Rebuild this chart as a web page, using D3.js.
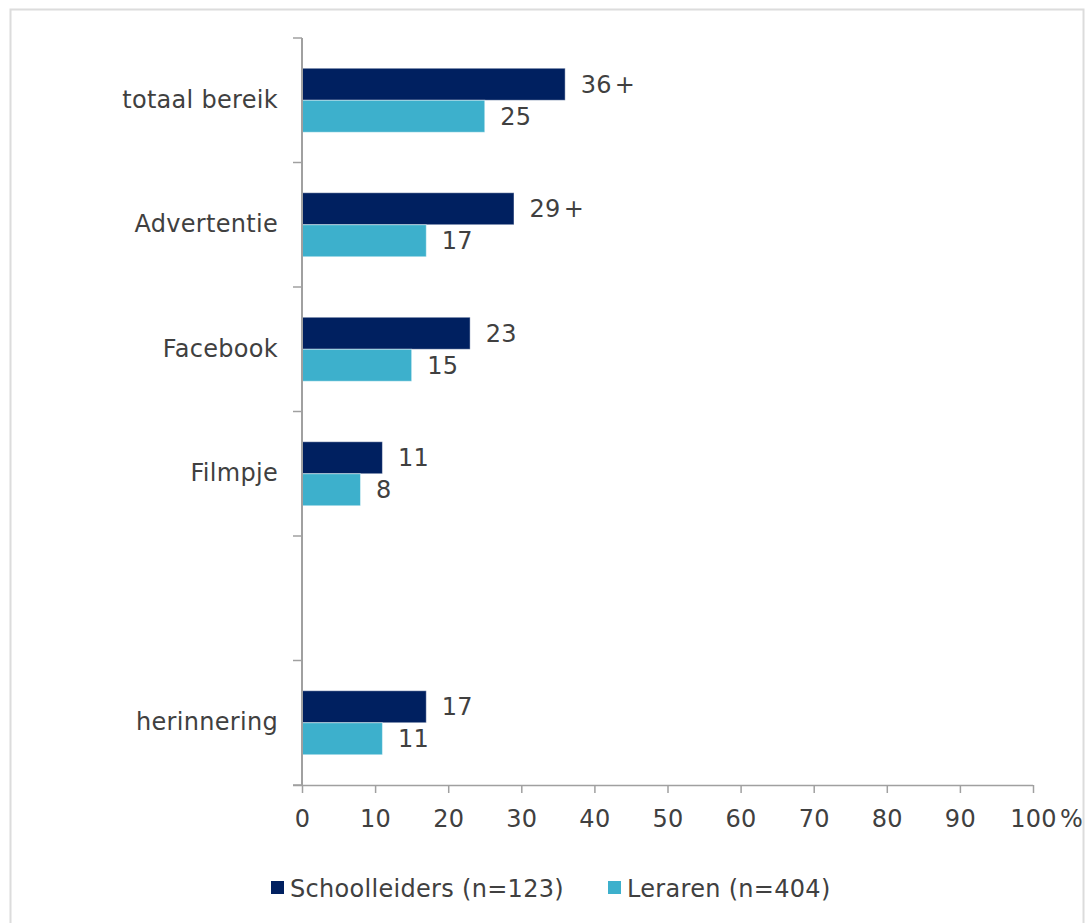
<!DOCTYPE html>
<html>
<head>
<meta charset="utf-8">
<script src="https://cdn.jsdelivr.net/npm/d3@7"></script>
<style>
  html, body { margin: 0; padding: 0; background: #ffffff; }
  svg { display: block; }
  text { font-family: "DejaVu Sans", Verdana, sans-serif; fill: #404040; letter-spacing: 0.3px; }
</style>
</head>
<body>
<script>
// Bereik per kanaal (%), schoolleiders vs. leraren
const categories = ["totaal bereik", "Advertentie", "Facebook", "Filmpje", "", "herinnering"];
const schoolleiders = [36, 29, 23, 11, null, 17];
const leraren = [25, 17, 15, 8, null, 11];
const schoolleidersMarks = ["+", "+", "", "", "", ""];
const lerarenMarks = ["", "", "", "", "", ""];
const xTicks = [0, 10, 20, 30, 40, 50, 60, 70, 80, 90, 100];
const seriesNames = ["Schoolleiders (n=123)", "Leraren (n=404)"];
const seriesColors = ["#002060", "#3DB0CC"];

const W = 1090, H = 923;
const FS = 24;
const plot = { left: 302, right: 1033, top: 38, bottom: 785 };

const svg = d3.select("body").append("svg").attr("width", W).attr("height", H);

// outer frame
svg.append("rect")
  .attr("x", 10.5).attr("y", 9.5)
  .attr("width", 1073).attr("height", H + 20)
  .attr("fill", "none").attr("stroke", "#dcdcdc").attr("stroke-width", 2);

// each category gets a slot; the blank slot keeps the gap before "herinnering"
const keys = categories.map((c, i) => i);
const y = d3.scaleBand().domain(keys).range([plot.top, plot.bottom]).paddingInner(0).paddingOuter(0);
const x = d3.scaleLinear().domain([0, 100]).range([plot.left, plot.right]);
const inner = d3.scaleBand().domain([0, 1]).range([0, y.bandwidth()]).paddingInner(0).paddingOuter(0.945);

const rows = keys.map(i => ({
  i,
  values: [
    { s: 0, v: schoolleiders[i], mark: schoolleidersMarks[i] },
    { s: 1, v: leraren[i], mark: lerarenMarks[i] }
  ].filter(d => d.v != null)
}));

const axisColor = "#a0a0a0";

// bars
const groups = svg.append("g").selectAll("g").data(rows).join("g")
  .attr("transform", d => `translate(0,${y(d.i)})`);

groups.selectAll("rect").data(d => d.values).join("rect")
  .attr("x", x(0))
  .attr("y", d => inner(d.s))
  .attr("width", d => x(d.v) - x(0))
  .attr("height", inner.bandwidth())
  .attr("fill", d => seriesColors[d.s])
  .attr("stroke", "rgba(255,255,255,0.45)")
  .attr("stroke-width", 1);

// value labels, with the significance mark set slightly apart
const labels = groups.selectAll("text").data(d => d.values).join("text")
  .attr("x", d => x(d.v) + 15.5)
  .attr("y", d => inner(d.s) + inner.bandwidth() / 2)
  .attr("dy", "0.36em")
  .attr("font-size", FS);
labels.append("tspan").text(d => d.v);
labels.append("tspan").attr("dx", 3).text(d => d.mark);

// category axis: labels at band centres, ticks at slot boundaries
const yAxis = svg.append("g").attr("transform", `translate(${plot.left},0)`)
  .call(d3.axisLeft(y).tickSize(0).tickPadding(24).tickFormat(i => categories[i]));
yAxis.select(".domain").remove();
yAxis.selectAll("text").attr("font-size", FS).attr("font-family", null).attr("fill", null);

const boundaries = keys.map(i => y(i)).concat([plot.bottom]);
svg.append("g").selectAll("line").data(boundaries).join("line")
  .attr("x1", plot.left - 9).attr("x2", plot.left)
  .attr("y1", d => d).attr("y2", d => d)
  .attr("stroke", axisColor).attr("stroke-width", 1.5);
svg.append("line")
  .attr("x1", plot.left).attr("x2", plot.left)
  .attr("y1", plot.top).attr("y2", plot.bottom)
  .attr("stroke", axisColor).attr("stroke-width", 2);

// value axis
const xAxis = svg.append("g").attr("transform", `translate(0,${plot.bottom})`)
  .call(d3.axisBottom(x).tickValues(xTicks).tickSize(8).tickPadding(17).tickFormat(d => d));
xAxis.select(".domain").attr("stroke", axisColor).attr("stroke-width", 1.5)
  .attr("d", `M${plot.left - 9},0.5H${plot.right}`);
xAxis.selectAll(".tick line").attr("stroke", axisColor).attr("stroke-width", 1.5);
xAxis.selectAll("text").attr("font-size", FS).attr("font-family", null).attr("fill", null);
svg.append("text")
  .attr("x", x(100) + 27).attr("y", plot.bottom + 8 + 17)
  .attr("dy", "0.71em")
  .attr("font-size", FS)
  .text("%");

// legend
const legendItems = [
  { name: seriesNames[0], color: seriesColors[0], x: 271 },
  { name: seriesNames[1], color: seriesColors[1], x: 608 }
];
const lg = svg.append("g").selectAll("g").data(legendItems).join("g")
  .attr("transform", d => `translate(${d.x},881)`);
lg.append("rect").attr("width", 13).attr("height", 13).attr("fill", d => d.color);
lg.append("text").attr("x", 19).attr("y", 7).attr("dy", "0.36em")
  .attr("font-size", FS).text(d => d.name);
</script>
</body>
</html>
